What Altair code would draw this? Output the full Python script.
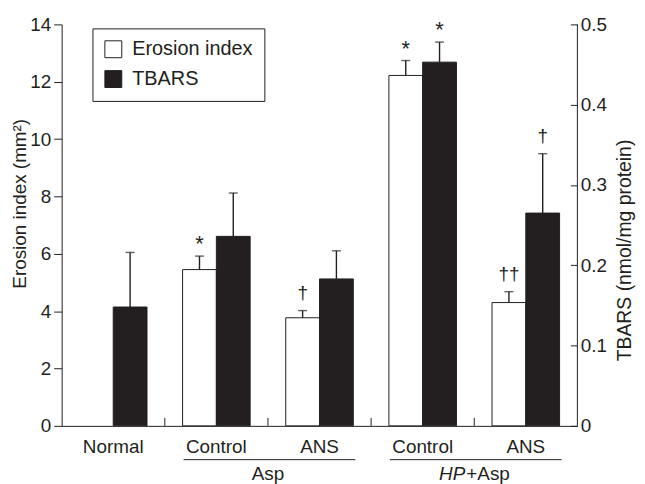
import altair as alt
import pandas as pd

# ---------------- data ----------------
groups = ["Normal", "Asp Control", "Asp ANS", "HP Control", "HP ANS"]
series_names = ["Erosion index", "TBARS"]
erosion = [0.0, 5.45, 3.77, 12.22, 4.30]
erosion_err = [0.0, 0.47, 0.25, 0.52, 0.38]
erosion_sig = ["", "*", "†", "*", "††"]
tbars = [0.148, 0.236, 0.183, 0.453, 0.265]
tbars_err = [0.068, 0.054, 0.035, 0.025, 0.074]
tbars_sig = ["", "", "", "*", "†"]
erosion_ticks = [0, 2, 4, 6, 8, 10, 12, 14]
tbars_ticks = [0, 0.1, 0.2, 0.3, 0.4, 0.5]
super_first = ["Asp Control", "HP Control"]
super_last = ["Asp ANS", "HP ANS"]

# ---------------- style ----------------
W, H = 519, 404
FONT = "Liberation Sans"
INK = "#231f20"
P_INNER = 0.345
step = W / len(groups)
half_gap = step * P_INNER / 2

ero_df = pd.DataFrame({"group": groups, "series": series_names[0], "value": erosion,
                       "err": erosion_err, "sig": erosion_sig})
ero_df["upper"] = ero_df["value"] + ero_df["err"]
tb_df = pd.DataFrame({"group": groups, "series": series_names[1], "value": tbars,
                      "err": tbars_err, "sig": tbars_sig})
tb_df["upper"] = tb_df["value"] + tb_df["err"]

xscale = alt.Scale(domain=groups, paddingInner=P_INNER, paddingOuter=P_INNER / 2)
x_axis = alt.X("group:N", scale=xscale, axis=alt.Axis(
    title=None, labelAngle=0, ticks=False, labelFontSize=19, labelPadding=12,
    domainColor=INK, domainWidth=1, labelOverlap=False,
    labelExpr="split(datum.label, ' ')[length(split(datum.label, ' ')) - 1]"))
x_plain = alt.X("group:N", scale=xscale)
xo = alt.XOffset("series:N", scale=alt.Scale(domain=series_names, paddingInner=0, paddingOuter=0))
legend = alt.Legend(title=None, orient="none", legendX=31, legendY=4, strokeColor=INK,
                    padding=11, symbolType="square", symbolSize=289, symbolStrokeColor=INK,
                    symbolStrokeWidth=1, labelFontSize=20, labelOffset=9, rowPadding=8,
                    labelColor=INK, labelFont=FONT)
fill = alt.Fill("series:N", scale=alt.Scale(domain=series_names, range=["white", INK]), legend=legend)

ero_scale = alt.Scale(domain=[0, 14], nice=False)
tb_scale = alt.Scale(domain=[0, 0.5], nice=False)


def err_layers(df, scale):
    base = alt.Chart(df)
    rule = base.mark_rule(color=INK, strokeWidth=1.4).encode(
        x=x_plain, xOffset=xo, y=alt.Y("value:Q", scale=scale, axis=None),
        y2="upper:Q").transform_filter("datum.err > 0")
    cap = base.mark_tick(color=INK, thickness=1.4, size=9).encode(
        x=x_plain, xOffset=xo, y=alt.Y("upper:Q", scale=scale, axis=None)
    ).transform_filter("datum.err > 0")
    star = base.mark_text(fontSize=22, dy=-5, baseline="alphabetic", color=INK).encode(
        x=x_plain, xOffset=xo, y=alt.Y("upper:Q", scale=scale, axis=None), text="sig:N"
    ).transform_filter("datum.sig == '*'")
    dag = base.mark_text(fontSize=19, dy=-12, baseline="alphabetic", color=INK).encode(
        x=x_plain, xOffset=xo, y=alt.Y("upper:Q", scale=scale, axis=None), text="sig:N"
    ).transform_filter("indexof(datum.sig, '†') >= 0")
    return [rule, cap, star, dag]


# ---------------- erosion (left axis) ----------------
ero_bars = alt.Chart(ero_df).mark_bar(stroke=INK, strokeWidth=1).encode(
    x=x_axis, xOffset=xo,
    y=alt.Y("value:Q", scale=ero_scale, axis=alt.Axis(
        title="Erosion index (mm²)", orient="left", values=erosion_ticks, grid=False,
        tickSize=8, labelFontSize=19, labelPadding=3, titleFontSize=19, titlePadding=0,
        titleY=180, domainColor=INK, tickColor=INK)),
    fill=fill).transform_filter("datum.value > 0")

# ---------------- TBARS (right axis) ----------------
tb_bars = alt.Chart(tb_df).mark_bar(stroke=INK, strokeWidth=1).encode(
    x=x_plain, xOffset=xo,
    y=alt.Y("value:Q", scale=tb_scale, axis=alt.Axis(
        title="TBARS (nmol/mg protein)", orient="right", values=tbars_ticks, grid=False,
        tickSize=7, offset=-7, domain=False, labelFontSize=19, labelPadding=3,
        labelExpr="datum.value == 0 ? '0' : format(datum.value, '.1f')",
        titleFontSize=19.5, titlePadding=9, titleAngle=270, titleBaseline="top",
        titleY=227, tickColor=INK)),
    fill=fill)

# boundary ticks pointing up from the x axis
bounds = alt.Chart(pd.DataFrame({"group": groups[1:]})).mark_rule(
    color=INK, strokeWidth=1, xOffset=-half_gap).encode(
    x=alt.X("group:N", scale=xscale, bandPosition=0),
    y=alt.value(H), y2=alt.value(H - 8))

right_line = alt.Chart(pd.DataFrame({"k": [0]})).mark_rule(color=INK, strokeWidth=1).encode(
    x=alt.value(W), y=alt.value(0), y2=alt.value(H))

# group underlines and group labels
sup_df = pd.DataFrame({"group": super_first, "g2": super_last})
underline = alt.Chart(sup_df).mark_rule(color=INK, strokeWidth=1, xOffset=-33, x2Offset=36).encode(
    x=alt.X("group:N", scale=xscale), x2="g2:N", y=alt.value(H + 34))
lbl_asp = alt.Chart(pd.DataFrame({"group": [super_last[0]], "t": ["Asp"]})).mark_text(
    fontSize=19, align="center", baseline="alphabetic", color=INK, xOffset=-half_gap).encode(
    x=alt.X("group:N", scale=xscale, bandPosition=0), y=alt.value(H + 54), text="t:N")
lbl_hp = alt.Chart(pd.DataFrame({"group": [super_last[1]], "t": ["HP"]})).mark_text(
    fontSize=19, align="right", baseline="alphabetic", fontStyle="italic", color=INK,
    xOffset=-half_gap - 9).encode(
    x=alt.X("group:N", scale=xscale, bandPosition=0), y=alt.value(H + 54), text="t:N")
lbl_rest = alt.Chart(pd.DataFrame({"group": [super_last[1]], "t": ["+Asp"]})).mark_text(
    fontSize=19, align="left", baseline="alphabetic", color=INK,
    xOffset=-half_gap - 8).encode(
    x=alt.X("group:N", scale=xscale, bandPosition=0), y=alt.value(H + 54), text="t:N")

layers = ([ero_bars] + err_layers(ero_df, ero_scale) + [tb_bars] + err_layers(tb_df, tb_scale)
          + [bounds, right_line, underline, lbl_asp, lbl_hp, lbl_rest])

chart = alt.layer(*layers).resolve_scale(y="independent").properties(
    width=W, height=H, autosize="none",
    padding={"left": 54, "top": 15, "right": 60, "bottom": 57}
).configure_view(stroke="transparent").configure_axis(
    labelFont=FONT, titleFont=FONT, labelColor=INK, titleColor=INK, titleFontWeight="normal"
).configure_text(font=FONT)

chart.save("out.html", embed_options={"renderer": "svg", "actions": False})
